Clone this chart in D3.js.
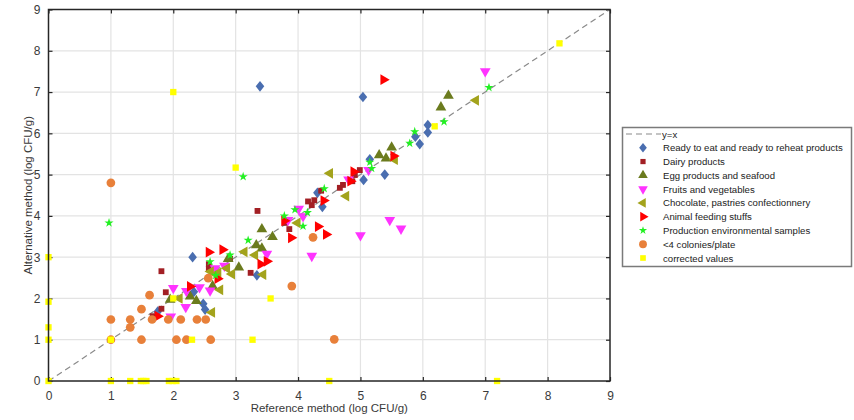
<!DOCTYPE html>
<html>
<head>
<meta charset="utf-8">
<script src="https://cdn.jsdelivr.net/npm/d3@7/dist/d3.min.js"></script>
<style>
  body { margin: 0; background: #fff; }
  text { font-family: "Liberation Sans", Arial, sans-serif; }
</style>
</head>
<body>
<script>
// size of the page
var widthScr = 854;
var heightScr = 420;
// plot box
var plotL = 48.5, plotR = 610, plotT = 9.5, plotB = 381;

// tick labels
var tickValues = [0, 1, 2, 3, 4, 5, 6, 7, 8, 9];

// series names
var seriesNames = [
  "Ready to eat and ready to reheat products",
  "Dairy products",
  "Egg products and seafood",
  "Fruits and vegetables",
  "Chocolate, pastries confectionnery",
  "Animal feeding stuffs",
  "Production environmental samples",
  "<4 colonies/plate",
  "corrected values"
];

// [reference, alternative] pairs
var readyToEat = [[3.39,7.14],[5.04,6.88],[6.08,6.2],[6.08,6.02],[5.88,5.92],[5.95,5.74],[5.15,5.37],[5.05,4.87],[5.39,5.0],[4.31,4.56],[4.39,4.22],[3.34,2.56],[2.31,3.0],[2.33,2.16],[1.75,1.68],[2.48,1.87],[2.51,1.73]];
var dairy = [[1.81,2.66],[1.88,2.15],[1.81,1.75],[1.67,1.57],[2.57,2.83],[2.57,2.72],[2.91,2.96],[3.24,2.62],[3.35,4.12],[3.86,3.68],[3.79,3.83],[4.16,4.35],[4.22,4.26],[4.26,4.38],[4.37,4.61],[4.67,4.68],[4.72,4.75],[4.87,4.84],[4.91,4.99],[4.99,5.11]];
var egg = [[6.41,6.91],[6.29,6.63],[5.5,5.66],[5.3,5.47],[5.41,5.39],[3.42,3.68],[3.59,3.49],[3.33,3.29],[3.42,3.21],[3.05,2.75],[2.88,2.96],[2.63,2.3],[2.27,2.05],[2.37,1.94],[1.95,1.97]];
var fruits = [[7.0,7.5],[5.13,5.11],[4.81,4.88],[5.47,3.9],[5.65,3.69],[5.0,3.53],[4.22,3.03],[4.08,3.99],[4.01,4.17],[3.84,3.9],[3.5,3.08],[2.82,2.79],[2.67,2.73],[2.59,2.19],[2.42,2.27],[2.0,2.25],[2.21,2.18],[2.2,1.79],[1.96,1.56]];
var chocolate = [[6.85,6.8],[5.55,5.36],[4.51,5.03],[4.77,4.48],[3.99,3.83],[3.14,3.13],[3.31,3.05],[3.44,2.58],[2.86,2.73],[2.94,2.59],[2.6,2.65],[2.72,2.62],[2.75,2.21],[2.62,1.66],[2.1,2.0]];
var animal = [[5.37,7.3],[5.53,5.45],[4.89,5.07],[4.84,4.84],[4.41,4.37],[3.78,3.88],[3.89,3.47],[4.32,3.74],[4.45,3.55],[3.5,2.9],[3.4,2.83],[2.79,3.18],[2.57,3.12],[2.71,2.48],[2.27,2.29],[1.75,1.57]];
var environment = [[7.06,7.11],[6.34,6.28],[5.87,6.04],[5.79,5.76],[5.15,5.3],[5.18,5.15],[4.42,4.66],[3.95,4.15],[4.15,4.08],[3.78,4.0],[4.08,3.75],[3.2,3.41],[2.91,3.05],[2.59,2.89],[2.68,2.56],[0.97,3.83],[3.12,4.95]];
var fewColonies = [[1.0,4.8],[4.24,3.48],[4.58,1.01],[3.9,2.3],[2.56,2.49],[1.62,2.08],[1.49,1.74],[1.0,1.49],[1.31,1.49],[1.31,1.3],[1.66,1.49],[1.92,1.49],[2.12,1.49],[2.38,1.49],[2.52,1.49],[1.49,1.0],[2.05,1.0],[2.21,1.0],[2.6,1.0],[1.0,1.0]];
var corrected = [[2.0,7.0],[3.0,5.17],[8.19,8.18],[6.19,6.17],[3.56,2.0],[2.0,2.0],[2.3,1.0],[3.27,1.0],[0,3.0],[0,1.92],[0,1.3],[0,1.0],[1.0,1.0],[0,0],[1.0,0],[1.31,0],[1.48,0],[1.52,0],[1.57,0],[1.93,0],[1.99,0],[2.05,0],[4.5,0],[7.19,0]];

var seriesData = [readyToEat, dairy, egg, fruits, chocolate, animal, environment, fewColonies, corrected];

// a wider diamond than d3's own
var wideDiamond = {
  draw: function(ctx, size) {
    var h = Math.sqrt(size / 1.6);
    var w = h * 0.8;
    ctx.moveTo(0, -h);
    ctx.lineTo(w, 0);
    ctx.lineTo(0, h);
    ctx.lineTo(-w, 0);
    ctx.closePath();
  }
};

// marker styles for each series
var styles = [
  { type: wideDiamond, size: 46, rot: 0, color: "#4a6eb0" },
  { type: d3.symbolSquare, size: 34, rot: 0, color: "#a21f24" },
  { type: d3.symbolTriangle, size: 50, rot: 0, color: "#6b7b1e" },
  { type: d3.symbolTriangle, size: 50, rot: 180, color: "#ff33ff" },
  { type: d3.symbolTriangle, size: 50, rot: -90, color: "#a3a31c" },
  { type: d3.symbolTriangle, size: 50, rot: 90, color: "#ff0000" },
  { type: d3.symbolStar, size: 26, rot: 0, color: "#22f022" },
  { type: d3.symbolCircle, size: 60, rot: 0, color: "#e8803a" },
  { type: d3.symbolSquare, size: 40, rot: 0, color: "#ffff00" }
];

var svg = d3.select("body").append("svg")
  .attr("width", widthScr)
  .attr("height", heightScr);

var x = d3.scaleLinear().domain([0, 9]).range([plotL, plotR]);
var y = d3.scaleLinear().domain([0, 9]).range([plotB, plotT]);

// grid
svg.append("g")
  .selectAll("line")
  .data(tickValues.slice(1, -1))
  .join("line")
  .attr("x1", d => x(d)).attr("x2", d => x(d))
  .attr("y1", plotT).attr("y2", plotB)
  .attr("stroke", "#e3e3e3").attr("stroke-width", 1.2);
svg.append("g")
  .selectAll("line")
  .data(tickValues.slice(1, -1))
  .join("line")
  .attr("y1", d => y(d)).attr("y2", d => y(d))
  .attr("x1", plotL).attr("x2", plotR)
  .attr("stroke", "#e3e3e3").attr("stroke-width", 1.2);

// axes, ticks pointing in on all four sides
function styleAxis(g) {
  g.select(".domain").remove();
  g.selectAll(".tick line").attr("stroke", "#262626").attr("stroke-width", 1.2);
  g.selectAll(".tick text").attr("fill", "#3a3a3a").style("font-size", "12px")
    .style("font-family", "'Liberation Sans', Arial, sans-serif");
}
svg.append("g").attr("transform", "translate(0," + plotB + ")")
  .call(d3.axisBottom(x).tickValues(tickValues).tickSize(-4).tickPadding(10))
  .call(styleAxis);
svg.append("g").attr("transform", "translate(0," + plotT + ")")
  .call(d3.axisTop(x).tickValues(tickValues).tickSize(-4).tickFormat(""))
  .call(styleAxis);
svg.append("g").attr("transform", "translate(" + plotL + ",0)")
  .call(d3.axisLeft(y).tickValues(tickValues).tickSize(-4).tickPadding(8))
  .call(styleAxis);
svg.append("g").attr("transform", "translate(" + plotR + ",0)")
  .call(d3.axisRight(y).tickValues(tickValues).tickSize(-4).tickFormat(""))
  .call(styleAxis);

// y = x line
svg.append("line")
  .attr("x1", x(0)).attr("y1", y(0))
  .attr("x2", x(9)).attr("y2", y(9))
  .attr("stroke", "#8a8a8a").attr("stroke-width", 1.2)
  .attr("stroke-dasharray", "6,4");

// points
seriesData.forEach(function(pts, i) {
  var s = styles[i];
  svg.append("g")
    .selectAll("path")
    .data(pts)
    .join("path")
    .attr("d", d3.symbol().type(s.type).size(s.size))
    .attr("transform", d => "translate(" + x(d[0]) + "," + y(d[1]) + ") rotate(" + s.rot + ")")
    .attr("fill", s.color);
});

// plot box
svg.append("rect")
  .attr("x", plotL).attr("y", plotT)
  .attr("width", plotR - plotL).attr("height", plotB - plotT)
  .attr("fill", "none").attr("stroke", "#262626").attr("stroke-width", 1.5);

// axis titles
svg.append("text")
  .attr("x", (plotL + plotR) / 2).attr("y", 412)
  .attr("text-anchor", "middle")
  .attr("fill", "#3a3a3a").style("font-size", "11.5px")
  .text("Reference method (log CFU/g)");
svg.append("text")
  .attr("transform", "translate(32," + ((plotT + plotB) / 2) + ") rotate(-90)")
  .attr("text-anchor", "middle")
  .attr("fill", "#3a3a3a").style("font-size", "11.5px")
  .text("Alternative method (log CFU/g)");

// legend
var legend = svg.append("g");
legend.append("rect")
  .attr("x", 622.5).attr("y", 127.5)
  .attr("width", 229).attr("height", 139)
  .attr("fill", "#fff").attr("stroke", "#7a7a7a").attr("stroke-width", 1.5);

var rowY = d3.scaleLinear().domain([0, 9]).range([134, 258]);

legend.append("line")
  .attr("x1", 626).attr("x2", 661)
  .attr("y1", rowY(0)).attr("y2", rowY(0))
  .attr("stroke", "#8a8a8a").attr("stroke-width", 1.2)
  .attr("stroke-dasharray", "6,4");
legend.append("text")
  .attr("x", 662).attr("y", rowY(0) + 3.5)
  .attr("fill", "#222").style("font-size", "9.6px")
  .text("y=x");

seriesNames.forEach(function(name, i) {
  var s = styles[i];
  var yy = rowY(i + 1);
  legend.append("path")
    .attr("d", d3.symbol().type(s.type).size(s.size * 0.8))
    .attr("transform", "translate(643," + yy + ") rotate(" + s.rot + ")")
    .attr("fill", s.color);
  legend.append("text")
    .attr("x", 663).attr("y", yy + 3.5)
    .attr("fill", "#222").style("font-size", "9.6px")
    .text(name);
});
</script>
</body>
</html>
